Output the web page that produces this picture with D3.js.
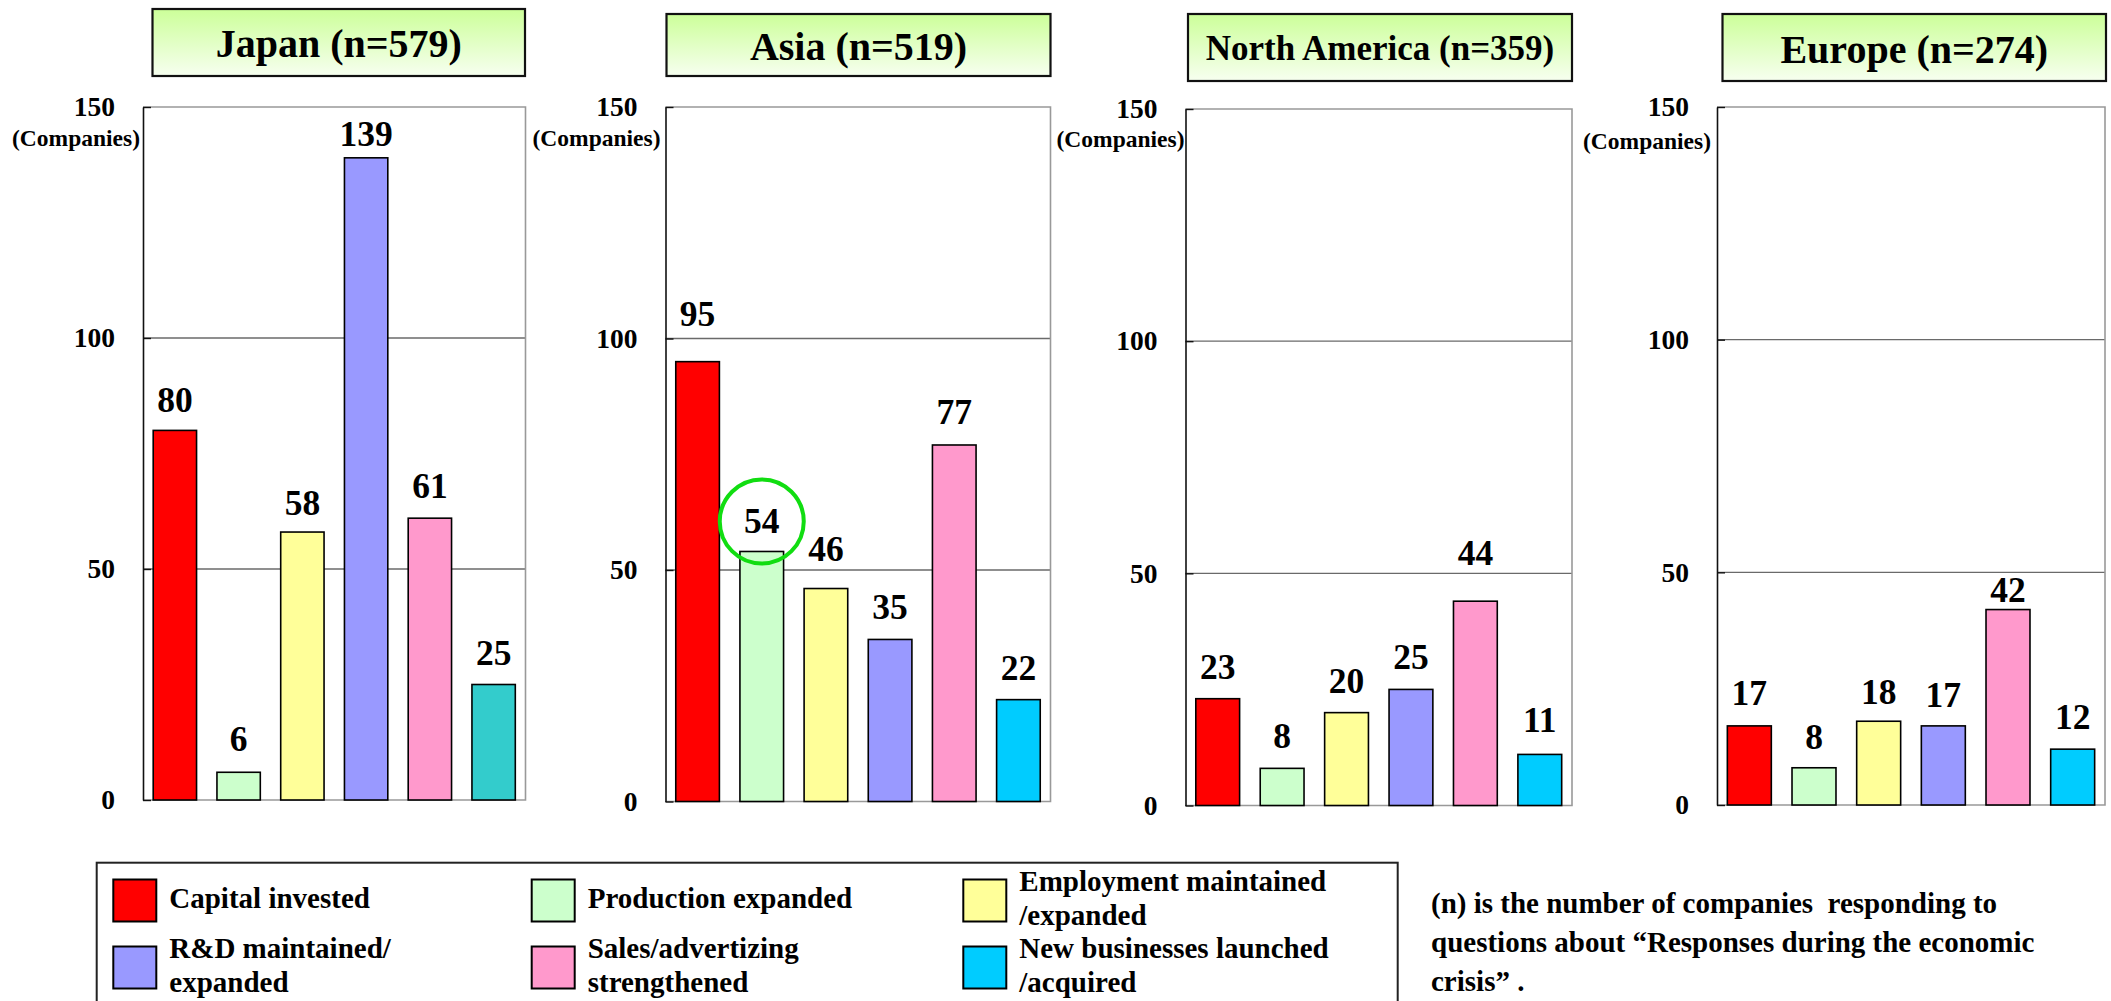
<!DOCTYPE html>
<html>
<head>
<meta charset="utf-8">
<script src="https://cdn.jsdelivr.net/npm/d3@7"></script>
<style>
  html, body { margin: 0; padding: 0; background: #ffffff; }
  svg { display: block; }
  text { font-family: "Liberation Serif", "Times New Roman", Times, serif; font-weight: bold; fill: #000; }
</style>
</head>
<body>
<svg id="chart" width="2111" height="1001"></svg>
<script>
// ---- data ----
const regions = ["Japan", "Asia", "North America", "Europe"];
const respondents = [579, 519, 359, 274];
const categories = [
  "Capital invested",
  "Production expanded",
  "Employment maintained\n/expanded",
  "R&D maintained/\nexpanded",
  "Sales/advertizing\nstrengthened",
  "New businesses launched\n/acquired"
];
const japanValues = [80, 6, 58, 139, 61, 25];
const asiaValues = [95, 54, 46, 35, 77, 22];
const northAmericaValues = [23, 8, 20, 25, 44, 11];
const europeValues = [17, 8, 18, 17, 42, 12];
const seriesByRegion = [japanValues, asiaValues, northAmericaValues, europeValues];
const yTicks = [0, 50, 100, 150];
const yUnit = "(Companies)";
const noteLines = [
  "(n) is the number of companies  responding to",
  "questions about \u201cResponses during the economic",
  "crisis\u201d ."
];
const highlight = { region: 1, category: 1 };

// ---- styling ----
const barColors = ["#ff0000", "#ccffcc", "#ffff99", "#9999ff", "#ff99cc", "#00ccff"];
const japanLastColor = "#33cccc";

// ---- layout (pixels) ----
const plotLeft = [143, 665.5, 1185.5, 1717];
const plotRight = [525.5, 1050.5, 1572, 2105];
const plotTop = [107, 107, 109, 107];
const plotBottom = [800, 801.5, 805.5, 805];
const titleLeft = [152.5, 666.5, 1188, 1722.5];
const titleRight = [525, 1050.5, 1572, 2106];
const titleTop = [9, 14, 14, 14];
const titleBottom = [76, 76, 81, 81];
const titleSize = [40, 40, 35, 40];
const titleLift = [14, 15, 12.5, 15];
const unitDrop = [39, 39, 38, 42];
const unitGap = [3, 5, 1, 6];
// gap between each value label's baseline and its bar top
const labelGaps = [
  [18, 21, 17, 12, 20, 20],
  [36, 18, 28, 20, 21, 20],
  [20, 20, 20, 20, 36, 22],
  [21, 19, 17, 19, 8, 20]
];

const svg = d3.select("#chart");

const defs = svg.append("defs");
const grad = defs.append("linearGradient")
  .attr("id", "titleFill").attr("x1", 0).attr("y1", 0).attr("x2", 0).attr("y2", 1);
grad.append("stop").attr("offset", "0%").attr("stop-color", "#ccff99");
grad.append("stop").attr("offset", "100%").attr("stop-color", "#f7fff0");

regions.forEach((name, k) => {
  const values = seriesByRegion[k];
  const L = plotLeft[k], R = plotRight[k], T = plotTop[k], B = plotBottom[k];
  const g = svg.append("g");

  // title box
  g.append("rect")
    .attr("x", titleLeft[k]).attr("y", titleTop[k])
    .attr("width", titleRight[k] - titleLeft[k])
    .attr("height", titleBottom[k] - titleTop[k])
    .attr("fill", "url(#titleFill)")
    .attr("stroke", "#111").attr("stroke-width", 2.2);
  g.append("text")
    .attr("x", (titleLeft[k] + titleRight[k]) / 2)
    .attr("y", (titleTop[k] + titleBottom[k]) / 2 + titleLift[k])
    .attr("text-anchor", "middle")
    .style("font-size", titleSize[k] + "px")
    .text(`${name} (n=${respondents[k]})`);

  const x = d3.scaleBand().domain(d3.range(values.length))
    .range([L, R]).paddingInner(0.32).paddingOuter(0.16);
  const y = d3.scaleLinear().domain([0, 150]).range([B, T]);

  // gridlines
  g.selectAll("line.grid").data([50, 100]).join("line")
    .attr("class", "grid")
    .attr("x1", L).attr("x2", R)
    .attr("y1", d => y(d)).attr("y2", d => y(d))
    .attr("stroke", "#6a6a6a").attr("stroke-width", 1.3);

  // plot frame: top, right, bottom in grey
  g.append("path")
    .attr("d", `M${L},${T}H${R}V${B}H${L}`)
    .attr("fill", "none").attr("stroke", "#999").attr("stroke-width", 1.6);

  // value axis
  const axis = d3.axisLeft(y).tickValues(yTicks).tickSize(-8).tickSizeOuter(0).tickPadding(28);
  const ag = g.append("g").attr("transform", `translate(${L},0)`).call(axis);
  ag.select(".domain").attr("stroke", "#111").attr("stroke-width", 1.6);
  ag.selectAll(".tick line").attr("stroke", "#111").attr("stroke-width", 1.4);
  ag.selectAll(".tick text")
    .attr("fill", "#000")
    .style("font-family", "'Liberation Serif', 'Times New Roman', serif")
    .style("font-weight", "bold")
    .style("font-size", "27.5px");

  g.append("text")
    .attr("x", L - unitGap[k]).attr("y", T + unitDrop[k])
    .attr("text-anchor", "end")
    .style("font-size", "23.5px")
    .text(yUnit);

  // bars
  g.selectAll("rect.bar").data(values).join("rect")
    .attr("class", "bar")
    .attr("x", (d, i) => x(i))
    .attr("y", d => y(d))
    .attr("width", x.bandwidth())
    .attr("height", d => y(0) - y(d))
    .attr("fill", (d, i) => (k === 0 && i === 5) ? japanLastColor : barColors[i])
    .attr("stroke", "#000").attr("stroke-width", 1.6);

  // value labels
  g.selectAll("text.val").data(values).join("text")
    .attr("class", "val")
    .attr("x", (d, i) => x(i) + x.bandwidth() / 2)
    .attr("y", (d, i) => y(d) - labelGaps[k][i])
    .attr("text-anchor", "middle")
    .style("font-size", "35.5px")
    .text(d => d);

  if (highlight.region === k) {
    const i = highlight.category;
    g.append("circle")
      .attr("cx", x(i) + x.bandwidth() / 2)
      .attr("cy", y(values[i]) - labelGaps[k][i] - 12)
      .attr("r", 42)
      .attr("fill", "none")
      .attr("stroke", "#11dd11").attr("stroke-width", 4);
  }
});

// legend
const legend = svg.append("g");
legend.append("rect")
  .attr("x", 96.7).attr("y", 862.7)
  .attr("width", 1397.7 - 96.7).attr("height", 160)
  .attr("fill", "#fff").attr("stroke", "#222").attr("stroke-width", 2);

const legendCols = [113.3, 531.7, 963.3];
const legendRows = [900.5, 967.5];
categories.forEach((label, i) => {
  const cx = legendCols[i % 3], cy = legendRows[Math.floor(i / 3)];
  legend.append("rect")
    .attr("x", cx).attr("y", cy - 21)
    .attr("width", 43).attr("height", 42)
    .attr("fill", barColors[i]).attr("stroke", "#000").attr("stroke-width", 2);
  const lines = label.split("\n");
  const t = legend.append("text").style("font-size", "29px");
  lines.forEach((ln, j) => {
    t.append("tspan")
      .attr("x", cx + 56)
      .attr("y", cy + (j - (lines.length - 1) / 2) * 34 + 7)
      .text(ln);
  });
});

// note
const note = svg.append("text").style("font-size", "29px").style("white-space", "pre");
noteLines.forEach((ln, j) => {
  note.append("tspan").attr("x", 1431).attr("y", 913 + j * 39).text(ln);
});
</script>
</body>
</html>
